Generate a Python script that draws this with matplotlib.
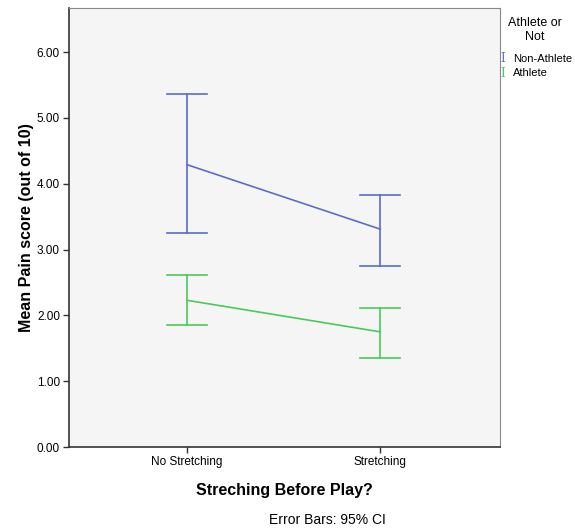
import matplotlib
matplotlib.use("Agg")
import matplotlib.pyplot as plt
import numpy as np

plt.rcParams['font.family'] = ['Liberation Sans', 'DejaVu Sans']

categories = ["No Stretching", "Stretching"]
groups = ["Non-Athlete", "Athlete"]
means = {"Non-Athlete": [4.29, 3.31], "Athlete": [2.23, 1.75]}
upper = {"Non-Athlete": [5.36, 3.83], "Athlete": [2.61, 2.11]}
lower = {"Non-Athlete": [3.25, 2.75], "Athlete": [1.85, 1.35]}
colors = {"Non-Athlete": "#5a6ec8", "Athlete": "#4cc95a"}
yticks = [0, 1, 2, 3, 4, 5, 6]

fig = plt.figure(figsize=(5.75, 5.31), dpi=100)
ax = fig.add_axes([0.12, 0.158, 0.75, 0.827])
ax.set_facecolor("#f5f5f5")
x = np.arange(len(categories))
cap = 0.104
for g in groups:
    c = colors[g]
    ax.plot(x, means[g], color=c, lw=1.2)
    for xi, lo, hi in zip(x, lower[g], upper[g]):
        ax.plot([xi, xi], [lo, hi], color=c, lw=1.2)
        ax.plot([xi - cap, xi + cap], [lo, lo], color=c, lw=1.2)
        ax.plot([xi - cap, xi + cap], [hi, hi], color=c, lw=1.2)

ax.set_xlim(-0.61, 1.62)
ax.set_ylim(0, 6.67)
ax.set_yticks(yticks)
ax.set_yticklabels([f"{v:.2f}" for v in yticks], fontsize=8.5)
ax.set_xticks(x)
ax.set_xticklabels(categories, fontsize=8.5)
ax.tick_params(length=4, width=1, color="#333333", pad=2.5)
for s in ["left", "bottom"]:
    ax.spines[s].set_linewidth(1.2)
    ax.spines[s].set_color("#333333")
for s in ["top", "right"]:
    ax.spines[s].set_linewidth(0.8)
    ax.spines[s].set_color("#888888")

ax.set_ylabel("Mean Pain score (out of 10)", fontsize=11.5, fontweight="bold", labelpad=2)
ax.set_xlabel("Streching Before Play?", fontsize=11.5, fontweight="bold", labelpad=11)

fig.text(0.930, 0.944, "Athlete or\nNot", ha="center", va="center", fontsize=9, linespacing=1.2)
fig.text(0.871, 0.889, "I", color=colors["Non-Athlete"], fontsize=8.5, va="center", family="DejaVu Serif")
fig.text(0.893, 0.889, "Non-Athlete", fontsize=8, va="center")
fig.text(0.871, 0.862, "I", color=colors["Athlete"], fontsize=8.5, va="center", family="DejaVu Serif")
fig.text(0.893, 0.862, "Athlete", fontsize=8, va="center")

fig.text(0.569, 0.021, "Error Bars: 95% CI", ha="center", va="center", fontsize=10)

fig.savefig("out.png", dpi=100)
